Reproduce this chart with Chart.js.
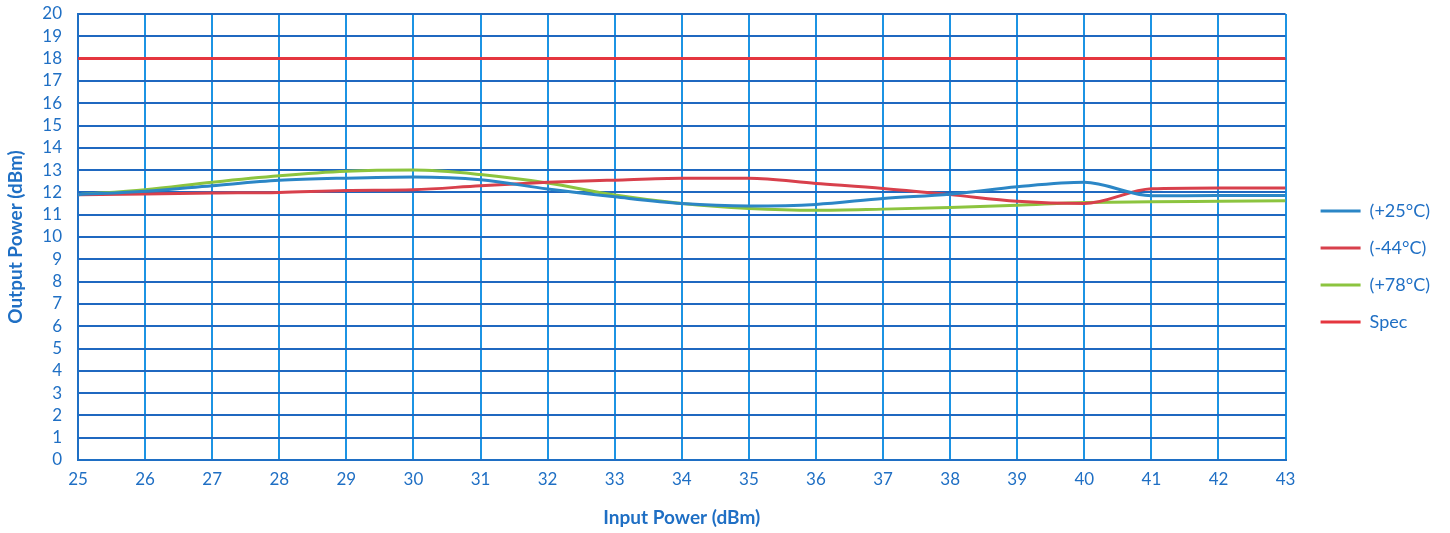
<!DOCTYPE html>
<html>
<head>
<meta charset="utf-8">
<script src="https://cdn.jsdelivr.net/npm/chart.js@4"></script>
<style>
  body { margin: 0; background: #fff; }
  #wrap { width: 1450px; height: 533px; }
</style>
</head>
<body>
<div id="wrap"><canvas id="powerChart"></canvas></div>
<script>
// input power, dBm
const inputPower = [25, 26, 27, 28, 29, 30, 31, 32, 33, 34, 35, 36, 37, 38, 39, 40, 41, 42, 43];

// output power per temperature, dBm
const temp25 = [11.9, 12.05, 12.3, 12.54, 12.64, 12.69, 12.57, 12.15, 11.8, 11.5, 11.39, 11.46, 11.73, 11.92, 12.25, 12.45, 11.85, 11.86, 11.86];
const tempMinus44 = [11.9, 11.93, 11.97, 12.0, 12.09, 12.12, 12.3, 12.45, 12.55, 12.63, 12.63, 12.4, 12.18, 11.9, 11.6, 11.5, 12.16, 12.2, 12.2];
const temp78 = [11.9, 12.12, 12.46, 12.75, 12.95, 13.0, 12.8, 12.42, 11.88, 11.5, 11.28, 11.2, 11.25, 11.32, 11.42, 11.55, 11.58, 11.6, 11.62];
const spec = [18, 18, 18, 18, 18, 18, 18, 18, 18, 18, 18, 18, 18, 18, 18, 18, 18, 18, 18];

const labelBlue = '#1f6fc4';

const COLORS = {
    blue: '#2b86c6',
    red: '#d8404c',
    green: '#8cc43f',
    spec: '#e5363f'
};

function line(label, data, color) {
    return {
        label: label,
        data: data,
        borderColor: color,
        backgroundColor: color,
        borderWidth: 3,
        pointRadius: 0,
        cubicInterpolationMode: 'monotone',
        fill: false
    };
}

const config = {
    type: 'line',
    data: {
        labels: inputPower,
        datasets: [
            line('(+25°C)', temp25, COLORS.blue),
            line('(-44°C)', tempMinus44, COLORS.red),
            line('(+78°C)', temp78, COLORS.green),
            line('Spec', spec, COLORS.spec)
        ]
    },
    options: {
        responsive: true,
        maintainAspectRatio: false,
        animation: false,
        layout: { padding: { top: 0, left: 0, right: 10, bottom: 0 } },
        plugins: {
            legend: {
                position: 'right',
                align: 'center',
                labels: {
                    usePointStyle: true,
                    pointStyle: 'line',
                    pointStyleWidth: 40,
                    color: labelBlue,
                    padding: 19,
                    font: { family: 'Lato', size: 18 }
                }
            },
            tooltip: { enabled: false }
        },
        scales: {
            x: {
                type: 'linear',
                min: 25,
                max: 43,
                ticks: {
                    stepSize: 1,
                    autoSkip: false,
                    color: labelBlue,
                    padding: 9,
                    font: { family: 'Lato', size: 17 }
                },
                grid: { color: '#1c94e4', lineWidth: 2, drawTicks: false },
                border: { color: '#1f6fc4', width: 2 },
                title: {
                    display: true,
                    text: 'Input Power (dBm)',
                    color: labelBlue,
                    font: { family: 'Lato', size: 19, weight: 'bold' },
                    padding: { top: 16 }
                },
                afterFit: function(scale) { scale.height = 73; }
            },
            y: {
                min: 0,
                max: 20,
                ticks: {
                    stepSize: 1,
                    autoSkip: false,
                    color: labelBlue,
                    padding: 16,
                    font: { family: 'Lato', size: 17 }
                },
                grid: { color: '#1f68c0', lineWidth: 2, drawTicks: false },
                border: { color: '#1f6fc4', width: 2 },
                title: {
                    display: true,
                    text: 'Output Power (dBm)',
                    color: labelBlue,
                    font: { family: 'Lato', size: 19, weight: 'bold' },
                    padding: { bottom: 4 }
                },
                afterFit: function(scale) {
                    scale.width = 78;
                    scale.paddingTop = 14;
                }
            },
            // empty strip between the plot and the legend
            gap: {
                position: 'right',
                display: true,
                min: 0,
                max: 20,
                ticks: { display: false },
                grid: { display: false },
                border: { display: false },
                afterFit: function(scale) { scale.width = 16; }
            }
        }
    }
};

const ctx = document.getElementById('powerChart').getContext('2d');
const myChart = new Chart(ctx, config);
</script>
</body>
</html>
